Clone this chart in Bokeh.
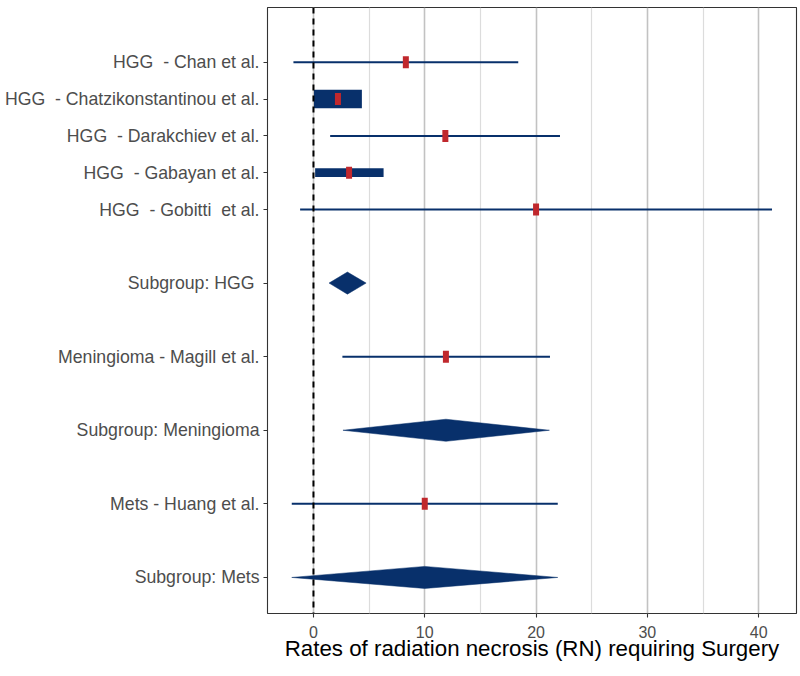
from bokeh.plotting import figure
from bokeh.models import ColumnDataSource, FixedTicker, Span, Range1d
from bokeh.embed import file_html
from bokeh.resources import INLINE

# ---- data ----
NB = "\u00a0"
row_labels = ["HGG " + NB + "- Chan et al.", "HGG " + NB + "- Chatzikonstantinou et al.",
              "HGG " + NB + "- Darakchiev et al.", "HGG " + NB + "- Gabayan et al.",
              "HGG " + NB + "- Gobitti " + NB + "et al.", "Subgroup: HGG" + NB,
              "Meningioma - Magill et al.", "Subgroup: Meningioma", "Mets - Huang et al.",
              "Subgroup: Mets"]
row_pos = [15, 14, 13, 12, 11, 9, 7, 5, 3, 1]

study_rows = [15, 14, 13, 12, 11, 7, 3]
study_est = [8.3, 2.2, 11.85, 3.2, 20.0, 11.9, 10.0]
study_lo = [-1.8, 0.05, 1.5, 0.15, -1.2, 2.6, -1.95]
study_hi = [18.4, 4.35, 22.15, 6.3, 41.2, 21.25, 21.95]

sub_rows = [9, 5, 1]
sub_est = [3.05, 11.9, 10.0]
sub_lo = [1.4, 2.65, -1.95]
sub_hi = [4.73, 21.2, 21.95]

x_ticks = [0, 10, 20, 30, 40]
x_minor = [5, 15, 25, 35]

# ---- styles ----
line_px = [2, 18.5, 2, 8.7, 2, 2, 2]
NAVY = "#08306b"
RED = "#c0282d"
diamond_half = 0.3
FONT = "Liberation Sans"

p = figure(width=800, height=676, output_backend="svg", toolbar_location=None,
           x_range=Range1d(-4.13, 43.4), y_range=Range1d(0.02, 16.49),
           min_border_left=267, min_border_right=4, min_border_top=7, min_border_bottom=63)
p.background_fill_color = "white"
p.outline_line_color = "#333333"
p.outline_line_width = 1.1

# grid
p.xgrid.ticker = FixedTicker(ticks=x_ticks, minor_ticks=x_minor)
p.xgrid.grid_line_color = "#c2c2c2"
p.xgrid.grid_line_width = 1.6
p.xgrid.minor_grid_line_color = "#dcdcdc"
p.xgrid.minor_grid_line_width = 1.2
p.ygrid.grid_line_color = None

# axes
p.xaxis.ticker = FixedTicker(ticks=x_ticks)
p.yaxis.ticker = FixedTicker(ticks=row_pos)
p.yaxis.major_label_overrides = {r: l for r, l in zip(row_pos, row_labels)}
for ax in (p.xaxis[0], p.yaxis[0]):
    ax.axis_line_color = None
    ax.major_tick_line_color = "#333333"
    ax.major_tick_line_width = 1.1
    ax.major_tick_out = 4
    ax.major_tick_in = 0
    ax.minor_tick_line_color = None
    ax.major_label_text_color = "#4d4d4d"
    ax.major_label_text_font = FONT
p.yaxis.major_label_text_font_size = "17.7px"
p.yaxis.major_label_standoff = 4
p.xaxis.major_label_text_font_size = "16px"
p.xaxis.major_label_standoff = 8
p.xaxis.axis_label = "Rates of radiation necrosis (RN) requiring Surgery"
p.xaxis.axis_label_text_font = FONT
p.xaxis.axis_label_text_font_size = "22.3px"
p.xaxis.axis_label_text_font_style = "normal"
p.xaxis.axis_label_text_color = "black"
p.xaxis.axis_label_standoff = -5

# study CIs
src = ColumnDataSource(dict(y=study_rows, est=study_est, lo=study_lo, hi=study_hi, lw=line_px))
p.segment(x0="lo", y0="y", x1="hi", y1="y", line_width="lw", line_color=NAVY, line_cap="butt", source=src)
p.rect(x="est", y="y", width=6, height=12, width_units="screen", height_units="screen",
       fill_color=RED, line_color=None, source=src)

# subgroup diamonds
xs = [[lo, e, hi, e] for lo, e, hi in zip(sub_lo, sub_est, sub_hi)]
ys = [[r, r + diamond_half, r, r - diamond_half] for r in sub_rows]
p.patches(xs=xs, ys=ys, fill_color=NAVY, line_color=NAVY, line_width=0.5)

# reference line
p.add_layout(Span(location=0, dimension="height", line_color="black", line_width=2, line_dash="6 5"))

open("out.html", "w").write(file_html(p, INLINE))
